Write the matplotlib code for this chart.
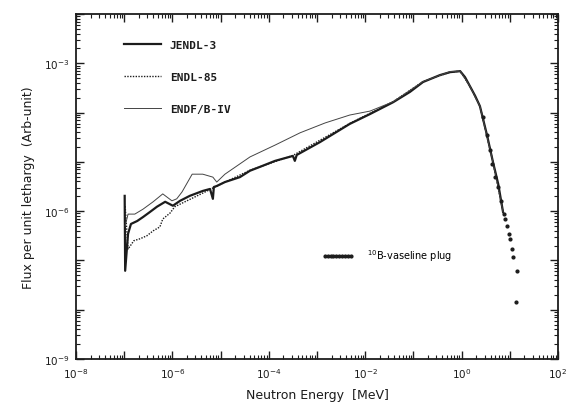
import numpy as np
import matplotlib
matplotlib.use("Agg")
import matplotlib.pyplot as plt
from matplotlib.ticker import FixedLocator, FuncFormatter, NullFormatter

# values, as log10(E [MeV]) and log10(flux)
jendl_logE = [-6.99, -6.98, -6.92, -6.86, -6.73, -6.61, -6.47, -6.32, -6.15, -5.99,
              -5.84, -5.64, -5.37, -5.22, -5.16, -5.14, -5.08, -4.91, -4.60, -4.39,
              -4.18, -3.87, -3.50, -3.46, -3.42, -2.94, -2.32, -1.90, -1.42, -1.07,
              -0.80, -0.45, -0.24, -0.03, 0.07, 0.17, 0.28, 0.38, 0.53, 0.65, 0.76, 0.86]
jendl_logF = [-5.69, -7.21, -6.46, -6.26, -6.20, -6.12, -6.02, -5.91, -5.81, -5.89,
              -5.79, -5.69, -5.59, -5.55, -5.75, -5.51, -5.49, -5.41, -5.31, -5.18,
              -5.10, -4.98, -4.88, -4.98, -4.86, -4.60, -4.23, -4.03, -3.79, -3.58,
              -3.38, -3.24, -3.18, -3.16, -3.28, -3.46, -3.66, -3.87, -4.47, -5.00, -5.45, -6.02]

endl_logE = [-6.98, -6.92, -6.80, -6.67, -6.53, -6.40, -6.26, -6.20, -6.05, -5.95,
             -5.74, -5.53, -5.32, -5.12, -4.39, -3.50, -2.32, -1.42, -0.80, -0.24,
             -0.03, 0.17, 0.38, 0.65, 0.86]
endl_logF = [-5.90, -6.77, -6.60, -6.56, -6.50, -6.40, -6.32, -6.16, -6.04, -5.91,
             -5.81, -5.71, -5.61, -5.51, -5.17, -4.87, -4.22, -3.78, -3.37, -3.18,
             -3.16, -3.46, -3.87, -5.00, -6.02]

endf_logE = [-6.98, -6.92, -6.78, -6.61, -6.40, -6.20, -6.01, -5.91, -5.80, -5.59,
             -5.37, -5.16, -5.08, -4.91, -4.39, -3.87, -3.35, -2.83, -2.32, -1.90,
             -1.42, -0.80, -0.24, -0.03, 0.17, 0.38, 0.65, 0.86]
endf_logF = [-6.30, -6.06, -6.06, -5.96, -5.81, -5.65, -5.79, -5.75, -5.61, -5.25,
             -5.25, -5.31, -5.41, -5.25, -4.90, -4.66, -4.41, -4.21, -4.05, -3.97,
             -3.78, -3.37, -3.17, -3.16, -3.46, -3.87, -5.00, -6.02]

exp_logE = [0.45, 0.52, 0.58, 0.64, 0.70, 0.76, 0.82, 0.87, 0.90, 0.94, 0.98,
            1.00, 1.05, 1.07, 1.13, 1.15]
exp_logF = [-4.10, -4.45, -4.75, -5.05, -5.30, -5.50, -5.80, -6.05, -6.16, -6.30, -6.46,
            -6.56, -6.77, -6.93, -7.84, -7.21]

labels = ["JENDL-3", "ENDL-85", "ENDF/B-IV"]
exp_label = "$^{10}$B-vaseline plug"

ink = "#1c1c1c"
fig = plt.figure(figsize=(5.68, 4.14), dpi=100)
ax = fig.add_axes([0.1338, 0.1304, 0.8486, 0.8334])

ax.plot(10**np.array(jendl_logE), 10**np.array(jendl_logF), color=ink, lw=1.6, label=labels[0])
ax.plot(10**np.array(endl_logE), 10**np.array(endl_logF), color=ink, lw=1.0, ls=(0, (1, 1)), label=labels[1])
ax.plot(10**np.array(endf_logE), 10**np.array(endf_logF), color="#444444", lw=0.7, label=labels[2])
exp_line, = ax.plot(10**np.array(exp_logE), 10**np.array(exp_logF), ls="none", marker="o",
                    ms=2, color=ink, label=exp_label)

ax.set_xscale("log")
ax.set_yscale("log")
ax.set_xlim(1e-8, 1e2)
ax.set_ylim(1e-9, 1e-2)

xdec = list(range(-8, 3))
ydec = list(range(-9, -1))
ax.xaxis.set_major_locator(FixedLocator([10.0**d for d in xdec]))
ax.yaxis.set_major_locator(FixedLocator([10.0**d for d in ydec]))
ax.xaxis.set_minor_locator(FixedLocator([m * 10.0**d for d in xdec[:-1] for m in range(2, 10)]))
ax.yaxis.set_minor_locator(FixedLocator([m * 10.0**d for d in ydec[:-1] for m in range(2, 10)]))
ax.xaxis.set_minor_formatter(NullFormatter())
ax.yaxis.set_minor_formatter(NullFormatter())

def xfmt(v, pos):
    e = int(round(np.log10(v)))
    return r"$10^{%d}$" % e if e % 2 == 0 else ""

def yfmt(v, pos):
    e = int(round(np.log10(v)))
    return r"$10^{%d}$" % e if e % 3 == 0 else ""

ax.xaxis.set_major_formatter(FuncFormatter(xfmt))
ax.yaxis.set_major_formatter(FuncFormatter(yfmt))

ax.tick_params(which="both", direction="in", top=True, right=True, colors=ink, labelsize=7.5)
ax.tick_params(which="major", length=6, width=1.0, pad=5)
ax.tick_params(which="minor", length=3, width=0.8)
for s in ax.spines.values():
    s.set_linewidth(1.3)
    s.set_color(ink)

ax.set_xlabel("Neutron Energy  [MeV]", fontsize=9, color=ink, labelpad=6)
ax.set_ylabel("Flux per unit lethargy  (Arb-unit)", fontsize=9, color=ink, labelpad=6)

handles, labs = ax.get_legend_handles_labels()
leg = ax.legend(handles[:3], labs[:3], loc="upper left", bbox_to_anchor=(0.10, 0.926),
                frameon=False, handlelength=3.3, labelspacing=2.0, borderpad=0,
                borderaxespad=0, prop={"family": "DejaVu Sans Mono", "size": 8, "weight": "bold"})
for t in leg.get_texts():
    t.set_color(ink)
ax.add_artist(leg)
leg2 = ax.legend([exp_line], [exp_label], loc="center left", bbox_to_anchor=(0.51, 0.30),
                 frameon=False, numpoints=10, handlelength=3.3, borderpad=0, borderaxespad=0,
                 handletextpad=1.3, prop={"size": 7})

fig.savefig("out.png", dpi=100)
